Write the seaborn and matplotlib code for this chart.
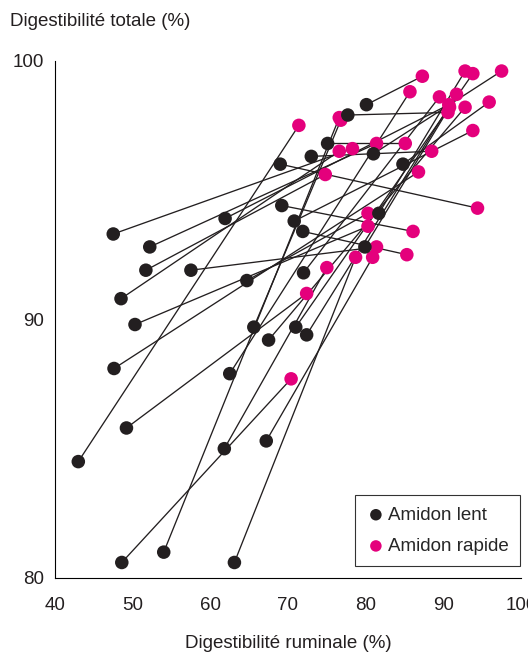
import matplotlib
matplotlib.use("Agg")
import matplotlib.pyplot as plt
import seaborn as sns
import pandas as pd

# Paired observations: each slow-starch diet is linked to its fast-starch counterpart
lent_ruminal = [43.0, 47.5, 47.6, 48.5, 48.6, 49.2, 50.3, 51.7, 52.2, 54.0,
                57.5, 61.9, 61.8, 62.5, 63.1, 64.7, 65.6, 67.2, 67.5, 69.0,
                69.2, 70.8, 71.9, 72.0, 71.0, 72.4, 73.0, 75.1, 77.7, 80.1,
                81.0, 84.8, 81.7, 79.9]
lent_totale = [84.5, 93.3, 88.1, 90.8, 80.6, 85.8, 89.8, 91.9, 92.8, 81.0,
               91.9, 93.9, 85.0, 87.9, 80.6, 91.5, 89.7, 85.3, 89.2, 96.0,
               94.4, 93.8, 93.4, 91.8, 89.7, 89.4, 96.3, 96.8, 97.9, 98.3,
               96.4, 96.0, 94.1, 92.8]
rapide_ruminal = [71.4, 78.3, 86.8, 76.6, 70.4, 72.4, 80.3, 74.8, 81.4, 76.6,
                  81.4, 90.7, 75.0, 85.7, 78.7, 80.3, 76.8, 80.9, 92.8, 94.4,
                  86.1, 93.8, 85.3, 89.5, 93.8, 91.7, 88.5, 85.1, 90.6, 87.3,
                  97.5, 95.9, 92.8, 90.8]
rapide_totale = [97.5, 96.6, 95.7, 96.5, 87.7, 91.0, 93.6, 95.6, 96.8, 97.8,
                 92.8, 98.3, 92.0, 98.8, 92.4, 94.1, 97.7, 92.4, 98.2, 94.3,
                 93.4, 97.3, 92.5, 98.6, 99.5, 98.7, 96.5, 96.8, 98.0, 99.4,
                 99.6, 98.4, 99.6, 98.2]

groups = ["Amidon lent", "Amidon rapide"]
x_ticks = [40, 50, 60, 70, 80, 90, 100]
y_ticks = [80, 90, 100]

n = len(lent_ruminal)
df = pd.DataFrame({
    "ruminale": lent_ruminal + rapide_ruminal,
    "totale": lent_totale + rapide_totale,
    "amidon": [groups[0]] * n + [groups[1]] * n,
    "paire": list(range(n)) * 2,
})

sns.set_style("white")
plt.rcParams["font.family"] = ["Liberation Sans", "DejaVu Sans"]
fs = 13.5
plt.rcParams["font.size"] = fs

fig = plt.figure(figsize=(5.28, 6.56), dpi=100)
ax = fig.add_axes([55 / 528, 78 / 656, 466 / 528, 517.3 / 656])

dark = "#231f20"
pink = "#e4007c"

# connecting segments for each pair
sns.lineplot(data=df, x="ruminale", y="totale", units="paire", estimator=None,
             sort=False, color=dark, linewidth=0.95, ax=ax, legend=False,
             zorder=1)

# points: fast starch below, slow starch on top
sns.scatterplot(data=df[df["amidon"] == groups[1]], x="ruminale", y="totale",
                color=pink, s=95, edgecolor="none", ax=ax, zorder=2,
                clip_on=False, label=groups[1])
sns.scatterplot(data=df[df["amidon"] == groups[0]], x="ruminale", y="totale",
                color=dark, s=95, edgecolor="none", ax=ax, zorder=3,
                clip_on=False, label=groups[0])

ax.set_xlim(40, 100)
ax.set_ylim(80, 100)
ax.set_xticks(x_ticks)
ax.set_yticks(y_ticks)
ax.tick_params(axis="both", direction="out", length=5.5, width=0.8,
               color="black", labelsize=fs, pad=2.5, labelcolor=dark)
ax.tick_params(axis="x", pad=8)
for side in ["top", "right"]:
    ax.spines[side].set_visible(False)
for side in ["left", "bottom"]:
    ax.spines[side].set_color("black")
    ax.spines[side].set_linewidth(0.8)

ax.set_xlabel("")
ax.set_ylabel("")
fig.text(288 / 528, 1 - 643 / 656, "Digestibilité ruminale (%)",
         ha="center", va="center", fontsize=fs, color=dark)
fig.text(10 / 528, 1 - 22 / 656, "Digestibilité totale (%)",
         ha="left", va="center", fontsize=fs, color=dark)

handles, labels = ax.get_legend_handles_labels()
order = [labels.index(g) for g in groups]
leg = ax.legend([handles[i] for i in order], [labels[i] for i in order],
                loc="lower right", bbox_to_anchor=(0.998, 0.023),
                frameon=True, fancybox=False, edgecolor="black",
                fontsize=fs, handletextpad=0.15, labelspacing=0.75,
                borderpad=0.6, handlelength=1.0, markerscale=0.85,
                borderaxespad=0)
leg.get_frame().set_linewidth(0.8)

fig.savefig("out.png", dpi=100)
